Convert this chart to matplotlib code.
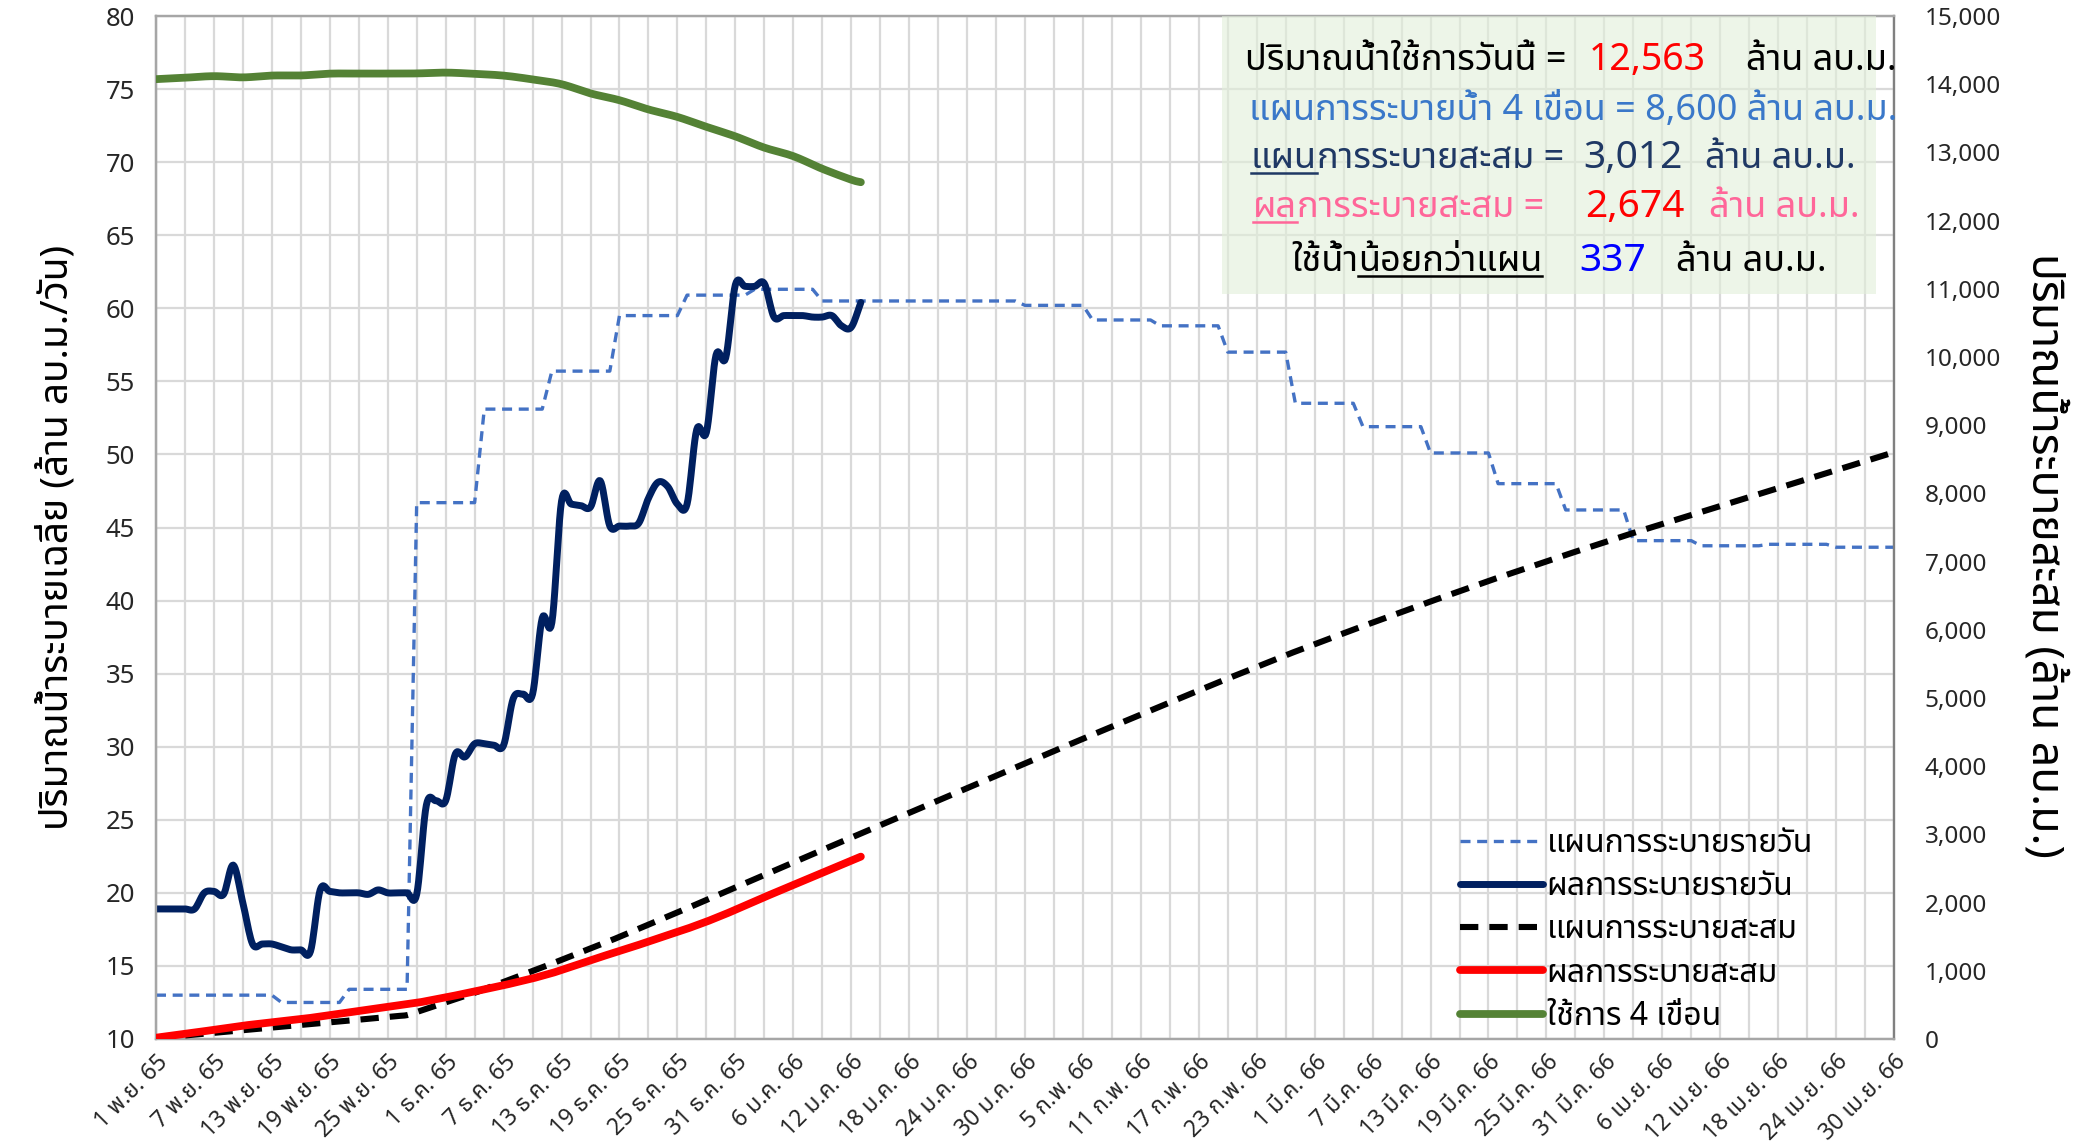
import numpy as np
import matplotlib
matplotlib.use('Agg')
import matplotlib.pyplot as plt
from matplotlib import font_manager
from matplotlib.ft2font import FT2Font
from matplotlib.lines import Line2D
from matplotlib.patches import Rectangle
from matplotlib.ticker import FuncFormatter, MultipleLocator

# แผนการระบายรายวัน (ล้าน ลบ.ม./วัน) - ระดับรายสัปดาห์ และจำนวนวันของแต่ละช่วง
plan_levels = [13.0, 12.5, 13.4, 46.7, 53.1, 55.7, 59.5, 60.9, 61.3, 60.5,
               60.2, 59.2, 58.8, 57.0, 53.5, 51.9, 50.1, 48.0, 46.2, 44.1,
               43.75, 43.85, 43.65]
plan_days = [13, 7, 7, 7, 7, 7, 7, 7, 7, 21,
             7, 7, 7, 7, 7, 7, 7, 7, 7, 7,
             7, 7, 7]

# ผลการระบายรายวัน 1 พ.ย. 65 - 13 ม.ค. 66
actual_daily = [18.9, 18.9, 18.9, 18.9, 18.9, 20.0, 20.1, 19.9, 21.9, 19.3,
                16.5, 16.5, 16.5, 16.3, 16.1, 16.1, 16.0, 20.2, 20.1, 20.0,
                20.0, 20.0, 19.9, 20.2, 20.0, 20.0, 20.0, 19.9, 26.0, 26.3,
                26.3, 29.5, 29.3, 30.2, 30.2, 30.1, 30.1, 33.3, 33.6, 33.6,
                38.8, 38.5, 46.8, 46.6, 46.5, 46.4, 48.2, 45.1, 45.1, 45.1,
                45.3, 47.0, 48.1, 47.8, 46.6, 46.6, 51.7, 51.5, 56.8, 56.6,
                61.6, 61.5, 61.5, 61.7, 59.4, 59.5, 59.5, 59.5, 59.4, 59.4,
                59.5, 58.8, 58.7, 60.4]

# ปริมาณน้ำใช้การ 4 เขื่อน (ล้าน ลบ.ม.)
storage_days = [0, 3, 6, 9, 12, 15, 18, 21, 24, 27, 30, 33, 36, 39, 42, 45,
                48, 51, 54, 57, 60, 63, 66, 69, 72, 73]
storage = [14074, 14095, 14118, 14100, 14127, 14128, 14155, 14156, 14156,
           14158, 14170, 14152, 14126, 14070, 14000, 13865, 13765, 13630,
           13520, 13375, 13235, 13070, 12945, 12760, 12600, 12563]

tick_days = list(range(0, 181, 6))
tick_labels = ['1 พ.ย. 65', '7 พ.ย. 65', '13 พ.ย. 65', '19 พ.ย. 65', '25 พ.ย. 65',
               '1 ธ.ค. 65', '7 ธ.ค. 65', '13 ธ.ค. 65', '19 ธ.ค. 65', '25 ธ.ค. 65',
               '31 ธ.ค. 65', '6 ม.ค. 66', '12 ม.ค. 66', '18 ม.ค. 66', '24 ม.ค. 66',
               '30 ม.ค. 66', '5 ก.พ. 66', '11 ก.พ. 66', '17 ก.พ. 66', '23 ก.พ. 66',
               '1 มี.ค. 66', '7 มี.ค. 66', '13 มี.ค. 66', '19 มี.ค. 66', '25 มี.ค. 66',
               '31 มี.ค. 66', '6 เม.ย. 66', '12 เม.ย. 66', '18 เม.ย. 66', '24 เม.ย. 66',
               '30 เม.ย. 66']

series_names = ['แผนการระบายรายวัน', 'ผลการระบายรายวัน', 'แผนการระบายสะสม',
                'ผลการระบายสะสม', 'ใช้การ 4 เขื่อน']


def thai_font():
    prefer = ['Tahoma', 'Leelawadee UI', 'Leelawadee', 'Noto Sans Thai', 'Noto Sans Thai UI',
              'Noto Sans Thai Looped', 'Loma', 'Garuda', 'Waree', 'Umpush', 'Sarabun',
              'Kinnari', 'Norasi', 'Laksaman']
    found = set()
    for f in font_manager.fontManager.ttflist:
        try:
            if 0x0E01 in FT2Font(f.fname).get_charmap():
                found.add(f.name)
        except Exception:
            pass
    for name in prefer:
        if name in found:
            return name
    if found:
        return sorted(found)[0]
    return None


def smooth(x, y, n=10):
    # catmull-rom through the points, like excel's smoothed line
    x = np.asarray(x, float)
    y = np.asarray(y, float)
    px = np.concatenate([[2 * x[0] - x[1]], x, [2 * x[-1] - x[-2]]])
    py = np.concatenate([[2 * y[0] - y[1]], y, [2 * y[-1] - y[-2]]])
    t = np.linspace(0, 1, n, endpoint=False)
    xs, ys = [], []
    for i in range(1, len(px) - 2):
        for p, out in ((px, xs), (py, ys)):
            p0, p1, p2, p3 = p[i - 1], p[i], p[i + 1], p[i + 2]
            out.append(0.5 * (2 * p1 + (p2 - p0) * t + (2 * p0 - 5 * p1 + 4 * p2 - p3) * t ** 2
                              + (3 * p1 - p0 - 3 * p2 + p3) * t ** 3))
    xs.append([x[-1]])
    ys.append([y[-1]])
    return np.concatenate(xs), np.concatenate(ys)


th = thai_font()
fam = [th, 'DejaVu Sans'] if th else ['DejaVu Sans']
plt.rcParams['font.family'] = fam

W, H = 2094, 1148
fig = plt.figure(figsize=(W / 100, H / 100), dpi=100)
ax = fig.add_axes([156 / W, 1 - 1039 / H, 1738 / W, 1023 / H])
ax2 = ax.twinx()

plan_daily = np.repeat(plan_levels, plan_days)
days = np.arange(len(plan_daily))
act = np.array(actual_daily)
act_days = np.arange(len(act))

plan_cum = np.cumsum(plan_daily)
act_cum = np.cumsum(act)

l1, = ax.plot(days, plan_daily, color='#4472C4', lw=2.4, dashes=(3.0, 2.0), zorder=3)
l2, = ax.plot(*smooth(act_days, act), color='#002060', lw=5.0, solid_joinstyle='round',
              solid_capstyle='round', zorder=4)
l3, = ax2.plot(*smooth(days, plan_cum, 4), color='black', lw=4.4, dashes=(3.0, 1.8), zorder=3)
l4, = ax2.plot(*smooth(act_days, act_cum, 4), color='#FF0000', lw=5.6,
               solid_capstyle='round', zorder=4)
l5, = ax2.plot(*smooth(storage_days, storage), color='#548235', lw=5.6,
               solid_capstyle='round', zorder=4)

ax.set_xlim(0, 180)
ax.set_ylim(10, 80)
ax2.set_ylim(0, 15000)
ax.yaxis.set_major_locator(MultipleLocator(5))
ax2.yaxis.set_major_locator(MultipleLocator(1000))
ax2.yaxis.set_major_formatter(FuncFormatter(lambda v, p: f'{int(v):,}'))
ax.set_xticks(tick_days)
ax.set_xticklabels(tick_labels, rotation=45, ha='right', rotation_mode='anchor')
ax.xaxis.set_minor_locator(MultipleLocator(3))

ax.grid(True, which='major', axis='both', color='#D9D9D9', lw=1.6)
ax.grid(True, which='minor', axis='x', color='#D9D9D9', lw=1.6)
ax.set_axisbelow(True)

for a in (ax, ax2):
    a.tick_params(axis='both', which='both', length=0, labelsize=17.5, colors='#262626')
    for s in a.spines.values():
        s.set_color('#A6A6A6')
        s.set_linewidth(1.6)
ax.spines['left'].set_color('#808080')
ax2.spines['right'].set_color('#808080')
ax.tick_params(axis='x', pad=8, labelsize=16.5)
ax.tick_params(axis='y', pad=15, labelsize=18.5)
ax2.tick_params(axis='y', pad=22)

ax.set_ylabel('ปริมาณน้ำระบายเฉลี่ย (ล้าน ลบ.ม./วัน)', fontsize=28, color='black')
ax.yaxis.set_label_coords(-0.046, 0.49)
ax2.set_ylabel('ปริมาณน้ำระบายสะสม (ล้าน ลบ.ม.)', fontsize=32, color='black', rotation=270,
               va='center')
ax2.yaxis.set_label_coords(1.086, 0.473)

ax2.legend([l1, l2, l3, l4, l5], series_names, loc='lower left',
           bbox_to_anchor=(0.734, -0.022), frameon=False, fontsize=23,
           handlelength=2.6, handletextpad=0.1, labelspacing=0.32)

# กล่องสรุปผล
fig.add_artist(Rectangle((1222 / W, 1 - 294 / H), 654 / W, 278 / H, transform=fig.transFigure,
                         facecolor='#E2EFDA', edgecolor='none', alpha=0.6, zorder=1))

fig.canvas.draw()
renderer = fig.canvas.get_renderer()


def put(x, ytop, segs):
    y = H - ytop
    for s, color, size, uline in segs:
        t = fig.text(x / W, y / H, s, color=color, fontsize=size, va='baseline', ha='left',
                     family=fam, zorder=5)
        bb = t.get_window_extent(renderer)
        if uline:
            fig.add_artist(Line2D([bb.x0 / W, bb.x1 / W], [(y - 5) / H, (y - 5) / H],
                                  transform=fig.transFigure, color=color, lw=1.8, zorder=5))
        x = bb.x1
    return x


TS, NS = 26, 27
put(1245, 70, [('ปริมาณน้ำใช้การวันนี้ =', 'black', TS, False)])
put(1589, 70, [('12,563', '#FF0000', NS, False)])
put(1746, 70, [('ล้าน ลบ.ม.', 'black', TS, False)])

put(1249, 120, [('แผนการระบายน้ำ 4 เขื่อน = 8,600 ล้าน ลบ.ม.', '#3A78C9', TS, False)])

put(1251, 168, [('แผน', '#1F3864', TS, True), ('การระบายสะสม =', '#1F3864', TS, False)])
put(1583, 168, [('3,012', '#1F3864', NS + 1, False)])
put(1705, 168, [('ล้าน ลบ.ม.', '#1F3864', TS, False)])

put(1253, 217, [('ผล', '#FF6699', TS, True), ('การระบายสะสม =', '#FF6699', TS, False)])
put(1585, 217, [('2,674', '#FF0000', NS + 1, False)])
put(1709, 217, [('ล้าน ลบ.ม.', '#FF6699', TS, False)])

put(1291, 271, [('ใช้น้ำ', 'black', TS, False), ('น้อยกว่าแผน', 'black', TS, True)])
put(1579, 271, [('337', '#0000FF', NS + 1, False)])
put(1676, 271, [('ล้าน ลบ.ม.', 'black', TS, False)])

fig.savefig('out.png', dpi=100)
